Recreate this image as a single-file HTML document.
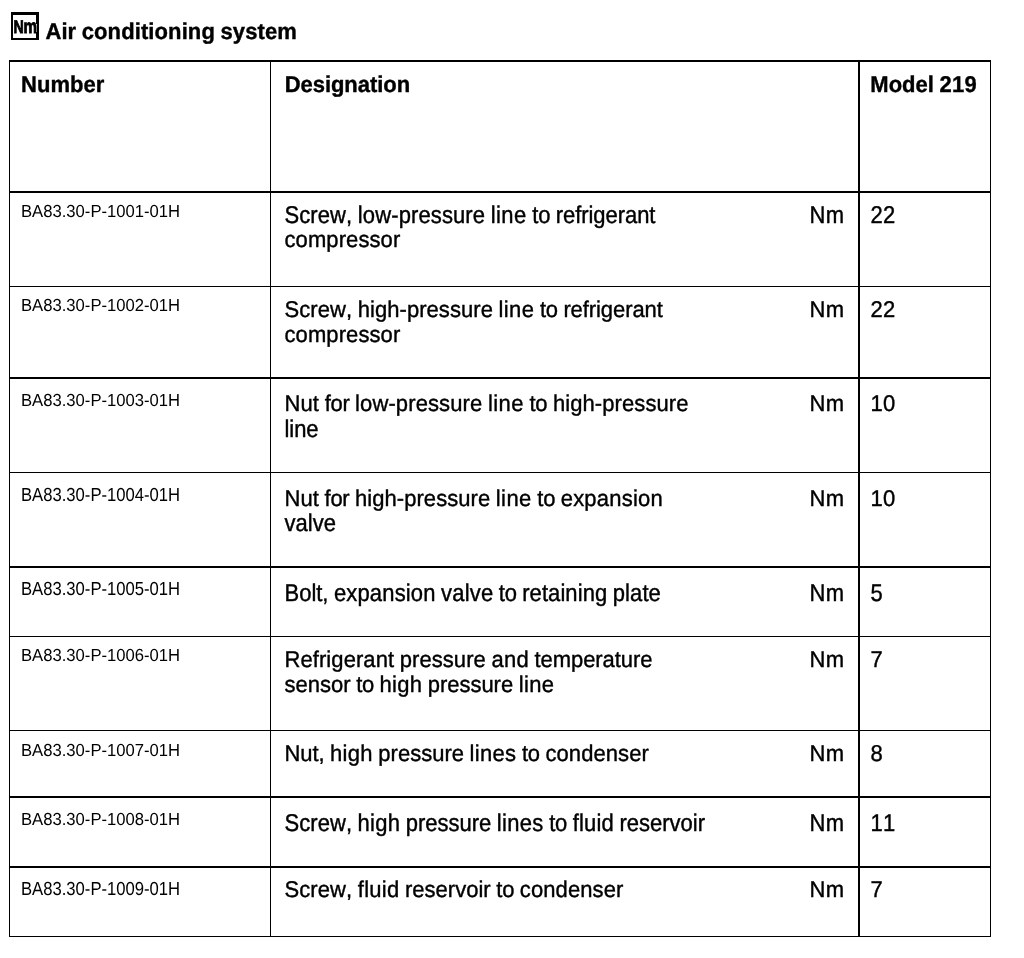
<!DOCTYPE html>
<html lang="en">
<head>
<meta charset="utf-8">
<title>Air conditioning system</title>
<style>
html,body{margin:0;padding:0;background:#fff;}
body{width:1024px;height:958px;position:relative;overflow:hidden;color:#000;font-family:"Liberation Sans",sans-serif;}
.pg{position:absolute;left:0;top:0;width:1024px;height:958px;overflow:hidden;}
h1{position:absolute;margin:0;font-weight:bold;white-space:nowrap;}
.ico{position:absolute;}
table{position:absolute;border-collapse:separate;border-spacing:0;table-layout:fixed;}
th,td{padding:0;margin:0;vertical-align:top;text-align:left;box-sizing:border-box;border:0 solid #000;position:relative;overflow:visible;}
th{font-weight:bold;}
.t{position:absolute;white-space:nowrap;display:block;text-rendering:geometricPrecision;font-kerning:none;font-variant-ligatures:none;-webkit-text-stroke:0.38px #000;}
.n{-webkit-text-stroke:0;}
</style>
</head>
<body>
<div class="pg">
<svg class="ico" style="left:11px;top:12px" width="28" height="28" viewBox="0 0 28 28" role="img" aria-label="Nm"><rect x="0" y="0" width="28" height="28" fill="#000"/><rect x="2" y="3" width="23" height="23" fill="#fff"/><rect x="25" y="12" width="1" height="8" fill="#fff"/><g font-family="Liberation Sans, sans-serif" font-weight="bold" font-size="17.5" stroke="#000" stroke-width="0.8" stroke-linejoin="miter" text-rendering="geometricPrecision"><text transform="translate(2.38,21) scale(0.8115,1.045)">N</text><text transform="translate(12.4,21) scale(0.871,1.119)">m</text></g></svg>
<h1 class="t" style="left:45.6px;top:19px;font-size:22px;line-height:25px;height:25px;word-spacing:-0.56px;transform-origin:0 20px;transform:scale(1,1.035);"><span style="letter-spacing:-0.009px">Air</span> <span style="letter-spacing:0.107px">conditioning</span> <span style="letter-spacing:0.085px">system</span></h1>
<table style="left:9px;top:60px;width:982px">
<colgroup><col style="width:261px"><col style="width:588px"><col style="width:133px"></colgroup>
<thead><tr>
<th style="height:131px;border-top-width:2px;border-left-width:1px;"><span class="t" style="left:11px;top:10px;font-size:22px;line-height:25px;height:25px;word-spacing:-0.64px;transform-origin:0 20px;transform:scale(1,1.035);"><span style="letter-spacing:0.054px">Number</span></span></th>
<th style="height:131px;border-top-width:2px;border-left-width:1px;"><span class="t" style="left:13.7px;top:10px;font-size:22px;line-height:25px;height:25px;word-spacing:-0.66px;transform-origin:0 20px;transform:scale(1,1.035);"><span style="letter-spacing:-0.046px">Designation</span></span></th>
<th style="height:131px;border-top-width:2px;border-left-width:2px;border-right-width:1px;"><span class="t" style="left:10.3px;top:10px;font-size:22px;line-height:25px;height:25px;word-spacing:-0.578px;transform-origin:0 20px;transform:scale(1,1.035);"><span style="letter-spacing:0.018px">Model</span> <span style="letter-spacing:0.216px">219</span></span></th>
</tr></thead>
<tbody>
<tr>
<td style="height:95px;border-top-width:2px;border-left-width:1px;"><span class="t n" style="left:11px;top:9px;font-size:16.65px;line-height:19px;height:19px;transform-origin:0 15px;transform:scale(1,1.048);">BA83.30-P-1001-01H</span></td>
<td style="height:95px;border-top-width:2px;border-left-width:1px;"><span class="t" style="left:13.5px;top:10px;font-size:22px;line-height:25px;height:25px;word-spacing:-0.578px;transform-origin:0 20px;transform:scale(1,1.101);"><span style="letter-spacing:0.094px">Screw,</span> <span style="letter-spacing:0.113px">low-pressure</span> <span style="letter-spacing:0.432px">line</span> <span style="letter-spacing:-0.18px">to</span> <span style="letter-spacing:-0.059px">refrigerant</span></span><span class="t" style="left:13.5px;top:34px;font-size:22px;line-height:25px;height:25px;word-spacing:-0.528px;transform-origin:0 20px;transform:scale(1,1.035);"><span style="letter-spacing:0.095px">compressor</span></span><span class="t" style="left:538.6px;top:10px;font-size:22px;line-height:25px;height:25px;word-spacing:-0.578px;transform-origin:0 20px;transform:scale(1,1.101);"><span style="letter-spacing:0.187px">Nm</span></span></td>
<td style="height:95px;border-top-width:2px;border-left-width:2px;border-right-width:1px;"><span class="t" style="left:10.5px;top:10px;font-size:22px;line-height:25px;height:25px;word-spacing:-0.578px;transform-origin:0 20px;transform:scale(1,1.101);"><span style="letter-spacing:0.216px">22</span></span></td>
</tr>
<tr>
<td style="height:91px;border-top-width:1px;border-left-width:1px;"><span class="t n" style="left:11px;top:9px;font-size:16.65px;line-height:19px;height:19px;transform-origin:0 15px;transform:scale(1,1.048);">BA83.30-P-1002-01H</span></td>
<td style="height:91px;border-top-width:1px;border-left-width:1px;"><span class="t" style="left:13.5px;top:10px;font-size:22px;line-height:25px;height:25px;word-spacing:-0.592px;transform-origin:0 20px;transform:scale(1,1.035);"><span style="letter-spacing:0.065px">Screw,</span> <span style="letter-spacing:0.057px">high-pressure</span> <span style="letter-spacing:0.409px">line</span> <span style="letter-spacing:-0.203px">to</span> <span style="letter-spacing:-0.082px">refrigerant</span></span><span class="t" style="left:13.5px;top:35px;font-size:22px;line-height:25px;height:25px;word-spacing:-0.528px;transform-origin:0 20px;transform:scale(1,1.035);"><span style="letter-spacing:0.095px">compressor</span></span><span class="t" style="left:538.6px;top:10px;font-size:22px;line-height:25px;height:25px;word-spacing:-0.578px;transform-origin:0 20px;transform:scale(1,1.035);"><span style="letter-spacing:0.187px">Nm</span></span></td>
<td style="height:91px;border-top-width:1px;border-left-width:2px;border-right-width:1px;"><span class="t" style="left:10.5px;top:10px;font-size:22px;line-height:25px;height:25px;word-spacing:-0.578px;transform-origin:0 20px;transform:scale(1,1.035);"><span style="letter-spacing:0.216px">22</span></span></td>
</tr>
<tr>
<td style="height:95px;border-top-width:2px;border-left-width:1px;"><span class="t n" style="left:11px;top:12px;font-size:16.65px;line-height:19px;height:19px;transform-origin:0 15px;transform:scale(1,1.048);">BA83.30-P-1003-01H</span></td>
<td style="height:95px;border-top-width:2px;border-left-width:1px;"><span class="t" style="left:13.5px;top:12px;font-size:22px;line-height:25px;height:25px;word-spacing:-0.58px;transform-origin:0 20px;transform:scale(1,1.035);"><span style="letter-spacing:0.115px">Nut</span> <span style="letter-spacing:-0.259px">for</span> <span style="letter-spacing:0.11px">low-pressure</span> <span style="letter-spacing:0.429px">line</span> <span style="letter-spacing:-0.183px">to</span> <span style="letter-spacing:0.08px">high-pressure</span></span><span class="t" style="left:13.5px;top:38px;font-size:22px;line-height:25px;height:25px;word-spacing:-0.884px;transform-origin:0 20px;transform:scale(1,1.101);"><span style="letter-spacing:-0.066px">line</span></span><span class="t" style="left:538.6px;top:12px;font-size:22px;line-height:25px;height:25px;word-spacing:-0.578px;transform-origin:0 20px;transform:scale(1,1.035);"><span style="letter-spacing:0.187px">Nm</span></span></td>
<td style="height:95px;border-top-width:2px;border-left-width:2px;border-right-width:1px;"><span class="t" style="left:10.5px;top:12px;font-size:22px;line-height:25px;height:25px;word-spacing:-0.578px;transform-origin:0 20px;transform:scale(1,1.035);"><span style="letter-spacing:0.216px">10</span></span></td>
</tr>
<tr>
<td style="height:94px;border-top-width:1px;border-left-width:1px;"><span class="t n" style="left:11px;top:13px;font-size:16.65px;line-height:19px;height:19px;transform-origin:0 15px;transform:scale(1,1.135);">BA83.30-P-1004-01H</span></td>
<td style="height:94px;border-top-width:1px;border-left-width:1px;"><span class="t" style="left:13.5px;top:13px;font-size:22px;line-height:25px;height:25px;word-spacing:-0.59px;transform-origin:0 20px;transform:scale(1,1.035);"><span style="letter-spacing:0.094px">Nut</span> <span style="letter-spacing:-0.274px">for</span> <span style="letter-spacing:0.061px">high-pressure</span> <span style="letter-spacing:0.413px">line</span> <span style="letter-spacing:-0.199px">to</span> <span style="letter-spacing:0.208px">expansion</span></span><span class="t" style="left:13.5px;top:38px;font-size:22px;line-height:25px;height:25px;word-spacing:-0.688px;transform-origin:0 20px;transform:scale(1,1.101);"><span style="letter-spacing:0.034px">valve</span></span><span class="t" style="left:538.6px;top:13px;font-size:22px;line-height:25px;height:25px;word-spacing:-0.578px;transform-origin:0 20px;transform:scale(1,1.035);"><span style="letter-spacing:0.187px">Nm</span></span></td>
<td style="height:94px;border-top-width:1px;border-left-width:2px;border-right-width:1px;"><span class="t" style="left:10.5px;top:13px;font-size:22px;line-height:25px;height:25px;word-spacing:-0.578px;transform-origin:0 20px;transform:scale(1,1.035);"><span style="letter-spacing:0.216px">10</span></span></td>
</tr>
<tr>
<td style="height:70px;border-top-width:2px;border-left-width:1px;"><span class="t n" style="left:11px;top:12px;font-size:16.65px;line-height:19px;height:19px;transform-origin:0 15px;transform:scale(1,1.135);">BA83.30-P-1005-01H</span></td>
<td style="height:70px;border-top-width:2px;border-left-width:1px;"><span class="t" style="left:13.5px;top:13px;font-size:22px;line-height:25px;height:25px;word-spacing:-0.619px;transform-origin:0 20px;transform:scale(1,1.101);"><span style="letter-spacing:-0.015px">Bolt,</span> <span style="letter-spacing:0.148px">expansion</span> <span style="letter-spacing:0.166px">valve</span> <span style="letter-spacing:-0.247px">to</span> <span style="letter-spacing:0.084px">retaining</span> <span style="letter-spacing:0.073px">plate</span></span><span class="t" style="left:538.6px;top:13px;font-size:22px;line-height:25px;height:25px;word-spacing:-0.578px;transform-origin:0 20px;transform:scale(1,1.101);"><span style="letter-spacing:0.187px">Nm</span></span></td>
<td style="height:70px;border-top-width:2px;border-left-width:2px;border-right-width:1px;"><span class="t" style="left:10.5px;top:13px;font-size:22px;line-height:25px;height:25px;word-spacing:-0.578px;transform-origin:0 20px;transform:scale(1,1.101);"><span style="letter-spacing:0.216px">5</span></span></td>
</tr>
<tr>
<td style="height:94px;border-top-width:1px;border-left-width:1px;"><span class="t n" style="left:11px;top:9px;font-size:16.65px;line-height:19px;height:19px;transform-origin:0 15px;transform:scale(1,1.048);">BA83.30-P-1006-01H</span></td>
<td style="height:94px;border-top-width:1px;border-left-width:1px;"><span class="t" style="left:13.5px;top:10px;font-size:22px;line-height:25px;height:25px;word-spacing:-0.559px;transform-origin:0 20px;transform:scale(1,1.035);"><span style="letter-spacing:0.078px">Refrigerant</span> <span style="letter-spacing:0.061px">pressure</span> <span style="letter-spacing:0.26px">and</span> <span style="letter-spacing:-0.055px">temperature</span></span><span class="t" style="left:13.5px;top:35px;font-size:22px;line-height:25px;height:25px;word-spacing:-0.604px;transform-origin:0 20px;transform:scale(1,1.035);"><span style="letter-spacing:0.011px">sensor</span> <span style="letter-spacing:-0.223px">to</span> <span style="letter-spacing:0.273px">high</span> <span style="letter-spacing:-0.027px">pressure</span> <span style="letter-spacing:0.389px">line</span></span><span class="t" style="left:538.6px;top:10px;font-size:22px;line-height:25px;height:25px;word-spacing:-0.578px;transform-origin:0 20px;transform:scale(1,1.035);"><span style="letter-spacing:0.187px">Nm</span></span></td>
<td style="height:94px;border-top-width:1px;border-left-width:2px;border-right-width:1px;"><span class="t" style="left:10.5px;top:10px;font-size:22px;line-height:25px;height:25px;word-spacing:-0.578px;transform-origin:0 20px;transform:scale(1,1.035);"><span style="letter-spacing:0.216px">7</span></span></td>
</tr>
<tr>
<td style="height:66px;border-top-width:1px;border-left-width:1px;"><span class="t n" style="left:11px;top:10px;font-size:16.65px;line-height:19px;height:19px;transform-origin:0 15px;transform:scale(1,1.048);">BA83.30-P-1007-01H</span></td>
<td style="height:66px;border-top-width:1px;border-left-width:1px;"><span class="t" style="left:13.5px;top:10px;font-size:22px;line-height:25px;height:25px;word-spacing:-0.593px;transform-origin:0 20px;transform:scale(1,1.035);"><span style="letter-spacing:-0.083px">Nut,</span> <span style="letter-spacing:0.296px">high</span> pressure <span style="letter-spacing:0.334px">lines</span> <span style="letter-spacing:-0.204px">to</span> <span style="letter-spacing:0.084px">condenser</span></span><span class="t" style="left:538.6px;top:10px;font-size:22px;line-height:25px;height:25px;word-spacing:-0.578px;transform-origin:0 20px;transform:scale(1,1.035);"><span style="letter-spacing:0.187px">Nm</span></span></td>
<td style="height:66px;border-top-width:1px;border-left-width:2px;border-right-width:1px;"><span class="t" style="left:10.5px;top:10px;font-size:22px;line-height:25px;height:25px;word-spacing:-0.578px;transform-origin:0 20px;transform:scale(1,1.035);"><span style="letter-spacing:0.216px">8</span></span></td>
</tr>
<tr>
<td style="height:70px;border-top-width:2px;border-left-width:1px;"><span class="t n" style="left:11px;top:12px;font-size:16.65px;line-height:19px;height:19px;transform-origin:0 15px;transform:scale(1,1.048);">BA83.30-P-1008-01H</span></td>
<td style="height:70px;border-top-width:2px;border-left-width:1px;"><span class="t" style="left:13.5px;top:13px;font-size:22px;line-height:25px;height:25px;word-spacing:-0.599px;transform-origin:0 20px;transform:scale(1,1.101);"><span style="letter-spacing:0.051px">Screw,</span> <span style="letter-spacing:0.284px">high</span> <span style="letter-spacing:-0.017px">pressure</span> <span style="letter-spacing:0.324px">lines</span> <span style="letter-spacing:-0.214px">to</span> <span style="letter-spacing:0.199px">fluid</span> <span style="letter-spacing:-0.012px">reservoir</span></span><span class="t" style="left:538.6px;top:13px;font-size:22px;line-height:25px;height:25px;word-spacing:-0.578px;transform-origin:0 20px;transform:scale(1,1.101);"><span style="letter-spacing:0.187px">Nm</span></span></td>
<td style="height:70px;border-top-width:2px;border-left-width:2px;border-right-width:1px;"><span class="t" style="left:10.5px;top:13px;font-size:22px;line-height:25px;height:25px;word-spacing:-0.578px;transform-origin:0 20px;transform:scale(1,1.101);"><span style="letter-spacing:0.216px">11</span></span></td>
</tr>
<tr>
<td style="height:71px;border-top-width:2px;border-left-width:1px;border-bottom-width:1px;"><span class="t n" style="left:11px;top:12px;font-size:16.65px;line-height:19px;height:19px;transform-origin:0 15px;transform:scale(1,1.135);">BA83.30-P-1009-01H</span></td>
<td style="height:71px;border-top-width:2px;border-left-width:1px;border-bottom-width:1px;"><span class="t" style="left:13.5px;top:9px;font-size:22px;line-height:25px;height:25px;word-spacing:-0.579px;transform-origin:0 20px;transform:scale(1,1.035);"><span style="letter-spacing:0.092px">Screw,</span> <span style="letter-spacing:0.229px">fluid</span> <span style="letter-spacing:0.022px">reservoir</span> <span style="letter-spacing:-0.182px">to</span> <span style="letter-spacing:0.113px">condenser</span></span><span class="t" style="left:538.6px;top:9px;font-size:22px;line-height:25px;height:25px;word-spacing:-0.578px;transform-origin:0 20px;transform:scale(1,1.035);"><span style="letter-spacing:0.187px">Nm</span></span></td>
<td style="height:71px;border-top-width:2px;border-left-width:2px;border-right-width:1px;border-bottom-width:1px;"><span class="t" style="left:10.5px;top:9px;font-size:22px;line-height:25px;height:25px;word-spacing:-0.578px;transform-origin:0 20px;transform:scale(1,1.035);"><span style="letter-spacing:0.216px">7</span></span></td>
</tr>
</tbody>
</table>
</div>
</body>
</html>
